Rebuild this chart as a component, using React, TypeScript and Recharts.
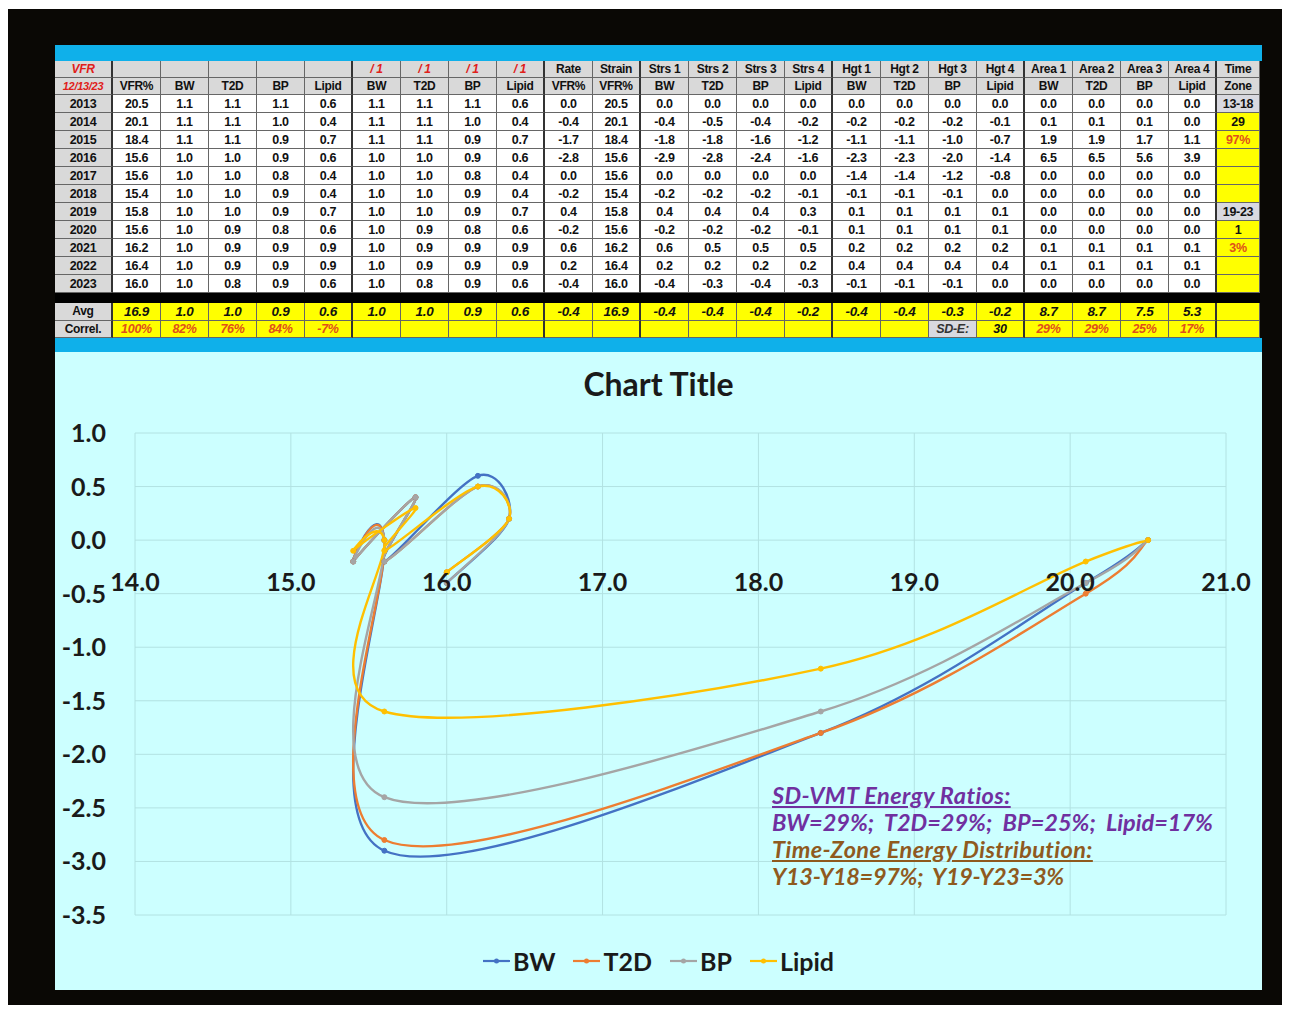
import React from 'react';
import { LineChart, Line, XAxis, YAxis, CartesianGrid, Legend } from 'recharts';

// ---------- table data ----------
const years = [2013, 2014, 2015, 2016, 2017, 2018, 2019, 2020, 2021, 2022, 2023];
const vfrPct = [20.5, 20.1, 18.4, 15.6, 15.6, 15.4, 15.8, 15.6, 16.2, 16.4, 16.0];
const bwRaw = [1.1, 1.1, 1.1, 1.0, 1.0, 1.0, 1.0, 1.0, 1.0, 1.0, 1.0];
const t2dRaw = [1.1, 1.1, 1.1, 1.0, 1.0, 1.0, 1.0, 0.9, 0.9, 0.9, 0.8];
const bpRaw = [1.1, 1.0, 0.9, 0.9, 0.8, 0.9, 0.9, 0.8, 0.9, 0.9, 0.9];
const lipidRaw = [0.6, 0.4, 0.7, 0.6, 0.4, 0.4, 0.7, 0.6, 0.9, 0.9, 0.6];
const rateVfr = [0.0, -0.4, -1.7, -2.8, 0.0, -0.2, 0.4, -0.2, 0.6, 0.2, -0.4];
const strsBW = [0.0, -0.4, -1.8, -2.9, 0.0, -0.2, 0.4, -0.2, 0.6, 0.2, -0.4];
const strsT2D = [0.0, -0.5, -1.8, -2.8, 0.0, -0.2, 0.4, -0.2, 0.5, 0.2, -0.3];
const strsBP = [0.0, -0.4, -1.6, -2.4, 0.0, -0.2, 0.4, -0.2, 0.5, 0.2, -0.4];
const strsLipid = [0.0, -0.2, -1.2, -1.6, 0.0, -0.1, 0.3, -0.1, 0.5, 0.2, -0.3];
const hgtBW = [0.0, -0.2, -1.1, -2.3, -1.4, -0.1, 0.1, 0.1, 0.2, 0.4, -0.1];
const hgtT2D = [0.0, -0.2, -1.1, -2.3, -1.4, -0.1, 0.1, 0.1, 0.2, 0.4, -0.1];
const hgtBP = [0.0, -0.2, -1.0, -2.0, -1.2, -0.1, 0.1, 0.1, 0.2, 0.4, -0.1];
const hgtLipid = [0.0, -0.1, -0.7, -1.4, -0.8, 0.0, 0.1, 0.1, 0.2, 0.4, 0.0];
const areaBW = [0.0, 0.1, 1.9, 6.5, 0.0, 0.0, 0.0, 0.0, 0.1, 0.1, 0.0];
const areaT2D = [0.0, 0.1, 1.9, 6.5, 0.0, 0.0, 0.0, 0.0, 0.1, 0.1, 0.0];
const areaBP = [0.0, 0.1, 1.7, 5.6, 0.0, 0.0, 0.0, 0.0, 0.1, 0.1, 0.0];
const areaLipid = [0.0, 0.0, 1.1, 3.9, 0.0, 0.0, 0.0, 0.0, 0.1, 0.1, 0.0];
const timeZone = ['13-18', '29', '97%', '', '', '', '19-23', '1', '3%', '', ''];
const headerTop = ['VFR', '', '', '', '', '', '/ 1', '/ 1', '/ 1', '/ 1', 'Rate', 'Strain', 'Strs 1', 'Strs 2', 'Strs 3', 'Strs 4', 'Hgt 1', 'Hgt 2', 'Hgt 3', 'Hgt 4', 'Area 1', 'Area 2', 'Area 3', 'Area 4', 'Time'];
const headerBottom = ['12/13/23', 'VFR%', 'BW', 'T2D', 'BP', 'Lipid', 'BW', 'T2D', 'BP', 'Lipid', 'VFR%', 'VFR%', 'BW', 'T2D', 'BP', 'Lipid', 'BW', 'T2D', 'BP', 'Lipid', 'BW', 'T2D', 'BP', 'Lipid', 'Zone'];
const avgRow = ['Avg', '16.9', '1.0', '1.0', '0.9', '0.6', '1.0', '1.0', '0.9', '0.6', '-0.4', '16.9', '-0.4', '-0.4', '-0.4', '-0.2', '-0.4', '-0.4', '-0.3', '-0.2', '8.7', '8.7', '7.5', '5.3', ''];
const correlRow = ['Correl.', '100%', '82%', '76%', '84%', '-7%', '', '', '', '', '', '', '', '', '', '', '', '', 'SD-E:', '30', '29%', '29%', '25%', '17%', ''];

// ---------- chart data ----------
const seriesNames = ['BW', 'T2D', 'BP', 'Lipid'];
const seriesColors = ['#4472C4', '#ED7D31', '#A5A5A5', '#FFC000'];
const seriesStress = [strsBW, strsT2D, strsBP, strsLipid];
const xTicks = [14, 15, 16, 17, 18, 19, 20, 21];
const yTicks = [1.0, 0.5, 0.0, -0.5, -1.0, -1.5, -2.0, -2.5, -3.0, -3.5];
const annotationLines = [
  'SD-VMT Energy Ratios:',
  'BW=29%;  T2D=29%;  BP=25%;  Lipid=17%',
  'Time-Zone Energy Distribution:',
  'Y13-Y18=97%;  Y19-Y23=3%',
];

const seriesData = seriesStress.map((s) => vfrPct.map((x, i) => ({ x, y: s[i] })));

// Excel-like smoothed curve (Catmull-Rom as cubic Bezier)
const smoothCurve: any = (context: any) => {
  let pts: number[][] = [];
  return {
    areaStart() {},
    areaEnd() {},
    lineStart() { pts = []; },
    point(x: number, y: number) { pts.push([+x, +y]); },
    lineEnd() {
      if (!pts.length) return;
      context.moveTo(pts[0][0], pts[0][1]);
      for (let i = 0; i < pts.length - 1; i++) {
        const p0 = pts[i - 1] || pts[i];
        const p1 = pts[i];
        const p2 = pts[i + 1];
        const p3 = pts[i + 2] || p2;
        context.bezierCurveTo(
          p1[0] + (p2[0] - p0[0]) / 6, p1[1] + (p2[1] - p0[1]) / 6,
          p2[0] - (p3[0] - p1[0]) / 6, p2[1] - (p3[1] - p1[1]) / 6,
          p2[0], p2[1]
        );
      }
    },
  };
};

// ---------- layout constants ----------
const CH_W = 1207;
const CH_H = 638;
const M_TOP = 81;
const M_BOTTOM = 45;
const X_AXIS_H = 30;
const Y_MAX = 1.0;
const Y_MIN = -3.5;
const PLOT_H = CH_H - M_TOP - M_BOTTOM - X_AXIS_H;
const ZERO_Y = M_TOP + ((Y_MAX - 0) / (Y_MAX - Y_MIN)) * PLOT_H;

const chartFont = 'Lato, "Open Sans", sans-serif';

const XTick = (props: any) => {
  const { x, payload } = props;
  return (
    <text x={x} y={ZERO_Y + 51} textAnchor="middle" fontFamily={chartFont} fontWeight={700} fontSize={25} fill="#1a1a1a">
      {Number(payload.value).toFixed(1)}
    </text>
  );
};

const YTick = (props: any) => {
  const { x, y, payload } = props;
  return (
    <text x={x} y={y + 9} textAnchor="end" fontFamily={chartFont} fontWeight={700} fontSize={25} fill="#1a1a1a">
      {Number(payload.value).toFixed(1)}
    </text>
  );
};

const renderLegend = (props: any) => {
  const payload = [...(props.payload || [])].sort(
    (a: any, b: any) => seriesNames.indexOf(a.value) - seriesNames.indexOf(b.value)
  );
  return (
    <div style={{ display: 'flex', justifyContent: 'center', alignItems: 'center', height: 40 }}>
      {payload.map((entry: any, i: number) => (
        <div key={i} style={{ display: 'flex', alignItems: 'center', marginRight: i < payload.length - 1 ? 18 : 0 }}>
          <svg width={27} height={10} style={{ marginRight: 3 }}>
            <line x1={0} y1={5} x2={27} y2={5} stroke={entry.color} strokeWidth={2.2} />
            <circle cx={13.5} cy={5} r={2.5} fill={entry.color} />
          </svg>
          <span style={{ fontFamily: chartFont, fontWeight: 700, fontSize: 25, color: '#1a1a1a' }}>{entry.value}</span>
        </div>
      ))}
    </div>
  );
};

// ---------- table ----------
const T_LEFT = 55;
const FIRST_W = 58;
const COL_W = 48;
const LAST_W = 43;
const colX = (i: number) => (i === 0 ? T_LEFT : T_LEFT + FIRST_W + (i - 1) * COL_W);
const colW = (i: number) => (i === 0 ? FIRST_W : i === 24 ? LAST_W : COL_W);
const thickAfter = [0, 5, 9, 11, 15, 19, 23];

const fmt = (v: number) => v.toFixed(1);

const Cell = ({ x, y, w, h, bg, text, color, italic, col, bold = true, size = 12 }: any) => (
  <div
    style={{
      position: 'absolute', left: x, top: y, width: w, height: h, background: bg,
      boxSizing: 'border-box',
      borderRight: thickAfter.includes(col) ? '2px solid #333' : '1px solid #666',
      borderBottom: '1px solid #666',
      display: 'flex', alignItems: 'center', justifyContent: 'center',
      fontFamily: '"Liberation Sans", Arial, sans-serif', fontWeight: bold ? 700 : 400,
      fontStyle: italic ? 'italic' : 'normal', fontSize: size, color: color || '#111',
      whiteSpace: 'nowrap', overflow: 'hidden', letterSpacing: -0.3,
    }}
  >
    {text}
  </div>
);

const DataTable = () => {
  const cells: any[] = [];
  const HDR_TOP = 61;
  const HDR_H = 17;
  const ROW_TOP = 95;
  const ROW_H = 18;
  for (let c = 0; c < 25; c++) {
    const red = c === 0 || (c >= 6 && c <= 9);
    cells.push(<Cell key={'h1' + c} col={c} x={colX(c)} y={HDR_TOP} w={colW(c)} h={HDR_H} bg="#d9d9d9" text={headerTop[c]} color={red ? '#e0201a' : '#111'} italic={red} size={12} />);
    cells.push(<Cell key={'h2' + c} col={c} x={colX(c)} y={HDR_TOP + HDR_H} w={colW(c)} h={HDR_H} bg="#d9d9d9" text={headerBottom[c]} color={c === 0 ? '#e0201a' : '#111'} italic={c === 0} size={c === 0 ? 11 : 12} />);
  }
  years.forEach((yr, r) => {
    const vals = [
      String(yr), fmt(vfrPct[r]), fmt(bwRaw[r]), fmt(t2dRaw[r]), fmt(bpRaw[r]), fmt(lipidRaw[r]),
      fmt(bwRaw[r]), fmt(t2dRaw[r]), fmt(bpRaw[r]), fmt(lipidRaw[r]),
      fmt(rateVfr[r]), fmt(vfrPct[r]),
      fmt(strsBW[r]), fmt(strsT2D[r]), fmt(strsBP[r]), fmt(strsLipid[r]),
      fmt(hgtBW[r]), fmt(hgtT2D[r]), fmt(hgtBP[r]), fmt(hgtLipid[r]),
      fmt(areaBW[r]), fmt(areaT2D[r]), fmt(areaBP[r]), fmt(areaLipid[r]),
      timeZone[r],
    ];
    vals.forEach((v, c) => {
      let bg = c === 0 ? '#d9d9d9' : '#ffffff';
      let color = '#111';
      if (c === 24) {
        bg = v.includes('-') ? '#d9d9e0' : '#ffff00';
        if (v.includes('%')) color = '#e0501a';
      }
      cells.push(<Cell key={'r' + r + 'c' + c} col={c} x={colX(c)} y={ROW_TOP + r * ROW_H} w={colW(c)} h={ROW_H} bg={bg} text={v} color={color} size={12.5} />);
    });
  });
  const AVG_TOP = 303;
  const AVG_H = 17.5;
  for (let c = 0; c < 25; c++) {
    cells.push(<Cell key={'avg' + c} col={c} x={colX(c)} y={AVG_TOP} w={colW(c)} h={AVG_H} bg={c === 0 ? '#d9d9d9' : '#ffff00'} text={avgRow[c]} italic={c !== 0} size={c === 0 ? 12 : 13.5} />);
    const cv = correlRow[c];
    let bg = c === 0 ? '#d9d9d9' : '#ffff00';
    let color = '#e0501a';
    if (c === 0) color = '#111';
    if (cv === 'SD-E:') { bg = '#d9d9e0'; color = '#333'; }
    if (cv === '30') color = '#111';
    cells.push(<Cell key={'cor' + c} col={c} x={colX(c)} y={AVG_TOP + AVG_H} w={colW(c)} h={AVG_H} bg={bg} text={cv} color={color} italic={c !== 0} size={c === 0 ? 12 : 12.5} />);
  }
  return (
    <>
      <div style={{ position: 'absolute', left: 55, top: 45, width: 1207, height: 16, background: '#0fb0ea' }} />
      <div style={{ position: 'absolute', left: 55, top: 61, width: 1205, height: 277, background: '#000' }} />
      {cells}
      <div style={{ position: 'absolute', left: 55, top: 338, width: 1207, height: 14, background: '#0fb0ea' }} />
    </>
  );
};

export default function App() {
  return (
    <div style={{ position: 'absolute', left: 0, top: 0, width: 1293, height: 1018, background: '#ffffff', overflow: 'hidden' }}>
      <div style={{ position: 'absolute', left: 8, top: 9, width: 1274, height: 996, background: '#0a0805' }} />
      <DataTable />
      <div style={{ position: 'absolute', left: 55, top: 352, width: CH_W, height: CH_H, background: '#ccffff' }}>
        <div style={{ position: 'absolute', left: 0, top: 12, width: CH_W, textAlign: 'center', fontFamily: chartFont, fontWeight: 700, fontSize: 32, color: '#1a1a1a' }}>
          Chart Title
        </div>
        <LineChart width={CH_W} height={CH_H} margin={{ top: M_TOP, right: 36, bottom: M_BOTTOM, left: 0 }}>
          <CartesianGrid stroke="#b2e2e2" strokeWidth={1} horizontal vertical />
          <XAxis
            type="number" dataKey="x" domain={[14, 21]} ticks={xTicks} allowDataOverflow
            axisLine={false} tickLine={false} height={X_AXIS_H} tick={<XTick />} interval={0}
          />
          <YAxis
            type="number" domain={[Y_MIN, Y_MAX]} ticks={yTicks} allowDataOverflow
            axisLine={false} tickLine={false} width={80} tickSize={0} tickMargin={29} tick={<YTick />} interval={0}
          />
          {seriesNames.map((name, i) => (
            <Line
              key={name}
              name={name}
              data={seriesData[i]}
              dataKey="y"
              type={smoothCurve}
              stroke={seriesColors[i]}
              strokeWidth={2.4}
              dot={{ r: 2.5, fill: seriesColors[i], stroke: seriesColors[i], strokeWidth: 1 }}
              activeDot={false}
              isAnimationActive={false}
            />
          ))}
          <Legend
            layout="horizontal" verticalAlign="middle" align="center" itemSorter={null as any}
            wrapperStyle={{ top: 589, left: 0, width: CH_W, height: 40 }}
            content={renderLegend}
          />
        </LineChart>
        <div style={{ position: 'absolute', left: 717, top: 430, fontFamily: chartFont, fontWeight: 700, fontStyle: 'italic', fontSize: 23.5, lineHeight: '27px' }}>
          <div style={{ color: '#7030A0', textDecoration: 'underline', letterSpacing: 0.4 }}>{annotationLines[0]}</div>
          <div style={{ color: '#7030A0', whiteSpace: 'pre' }}>{annotationLines[1]}</div>
          <div style={{ color: '#8f5a1e', textDecoration: 'underline', letterSpacing: 0.4 }}>{annotationLines[2]}</div>
          <div style={{ color: '#8f5a1e', whiteSpace: 'pre', letterSpacing: -0.3 }}>{annotationLines[3]}</div>
        </div>
      </div>
    </div>
  );
}
